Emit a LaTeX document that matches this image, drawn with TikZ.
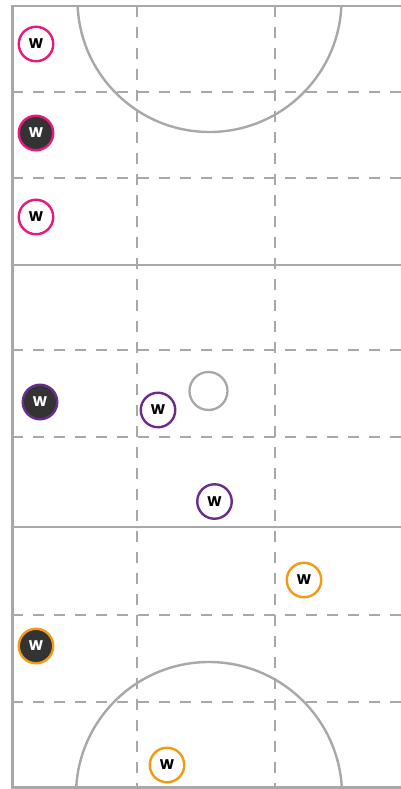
\documentclass[tikz,border=0pt]{standalone}
\usepackage{fontspec}
\setmainfont{Poppins}
\begin{document}
\begin{tikzpicture}[x=1pt,y=-1pt,
  solidline/.style={draw=linegray,line width=2.4pt},
  dashline/.style={draw=linegray,line width=1.3pt,dash pattern=on 11pt off 10pt},
  player/.style={circle,minimum size=34.5pt,inner sep=0pt,line width=2.4pt,font=\bfseries\fontsize{14}{14}\selectfont},
  lightp/.style={player,draw=#1,fill=white,text=black},
  darkp/.style={player,draw=#1,fill=darkfill,text=white}]
\definecolor{linegray}{HTML}{A8A8A8}
\definecolor{pinkc}{HTML}{E5197E}
\definecolor{purplec}{HTML}{6A2C8E}
\definecolor{orangec}{HTML}{F39A12}
\definecolor{darkfill}{HTML}{333333}
\useasboundingbox (0,0) rectangle (401,789);
\fill[white] (0,0) rectangle (401,789);
% dashed grid
\foreach \yy in {92,178,350,437,615,702} \draw[dashline] (12,\yy) -- (401,\yy);
\foreach \xx in {137,275} \draw[dashline] (\xx,6) -- (\xx,789);
% solid lines
\draw[solidline] (401,6) -- (12.5,6) -- (12.5,789);
\draw[solidline] (12.5,265) -- (401,265);
\draw[solidline] (12.5,527) -- (401,527);
\draw[solidline] (12.5,787.5) -- (401,787.5);
% circles
\begin{scope}
\clip (12,6) rectangle (401,789);
\draw[solidline] (209.5,0) circle[radius=132];
\draw[solidline] (209,795) circle[radius=133];
\end{scope}
\node[circle,draw=linegray,line width=2.3pt,minimum size=38pt,inner sep=0pt] (cc) at (208.5,391) {};
% players
\node[lightp=pinkc] (p1) at (36,44) {W};
\node[darkp=pinkc] (p2) at (36,133) {W};
\node[lightp=pinkc] (p3) at (36,217) {W};
\node[darkp=purplec] (q1) at (40,402) {W};
\node[lightp=purplec] (q2) at (158,410) {W};
\node[lightp=purplec] (q3) at (214.5,501.5) {W};
\node[lightp=orangec] (r1) at (304,580) {W};
\node[darkp=orangec] (r2) at (36,646) {W};
\node[lightp=orangec] (r3) at (167,765) {W};
\end{tikzpicture}
\end{document}
